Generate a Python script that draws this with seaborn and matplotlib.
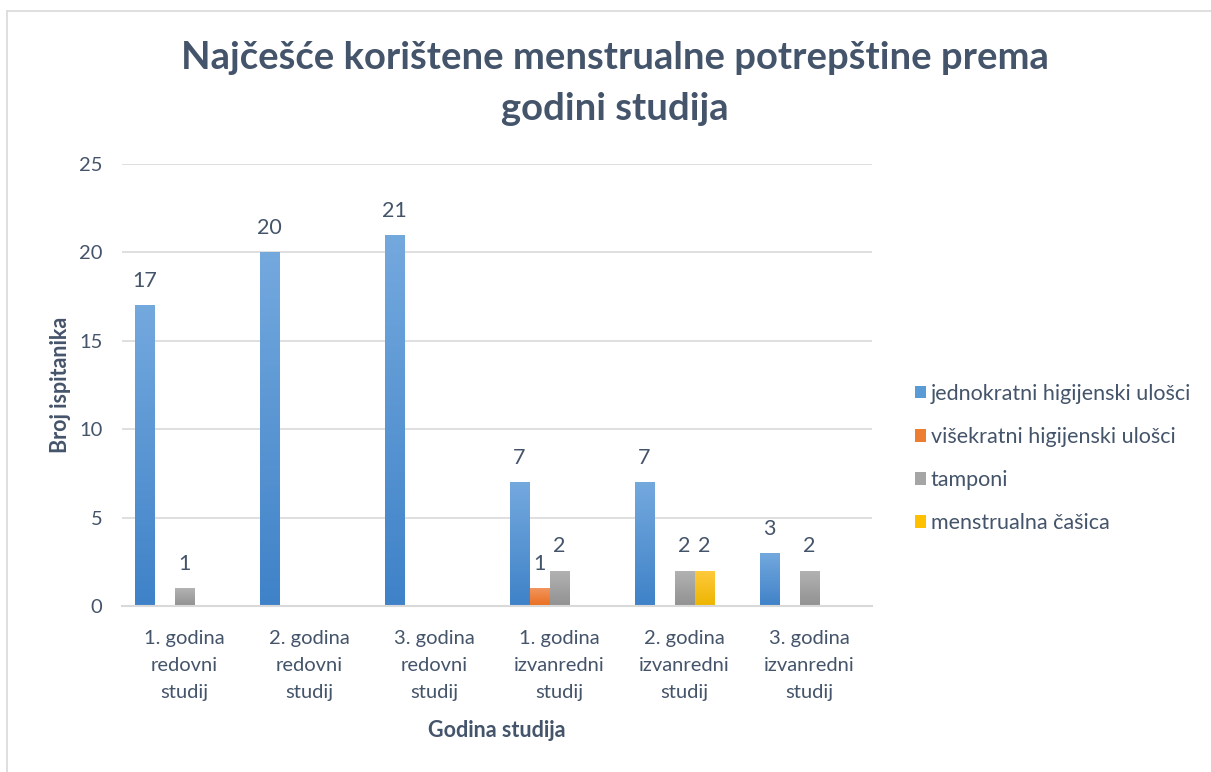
import numpy as np
import pandas as pd
import matplotlib
matplotlib.use("Agg")
import matplotlib.pyplot as plt
import matplotlib.colors as mcolors
import seaborn as sns

categories = ["1. godina\nredovni\nstudij", "2. godina\nredovni\nstudij", "3. godina\nredovni\nstudij",
              "1. godina\nizvanredni\nstudij", "2. godina\nizvanredni\nstudij", "3. godina\nizvanredni\nstudij"]
series_names = ["jednokratni higijenski ulošci", "višekratni higijenski ulošci", "tamponi", "menstrualna čašica"]
jednokratni = [17, 20, 21, 7, 7, 3]
visekratni = [0, 0, 0, 1, 0, 0]
tamponi = [1, 0, 0, 2, 2, 2]
casica = [0, 0, 0, 0, 2, 0]
prazno = [0, 0, 0, 0, 0, 0]  # empty fifth series slot (as in the original chart)

series_values = [jednokratni, visekratni, tamponi, casica, prazno]
hue_levels = series_names + ["_empty"]

rows = []
for name, vals in zip(hue_levels, series_values):
    for c, v in zip(categories, vals):
        rows.append({"cat": c, "series": name, "value": v})
df = pd.DataFrame(rows)

top_cols = ["#74a9de", "#f2955e", "#b3b3b3", "#ffca3e", "#ffffff"]
bot_cols = ["#3f82c8", "#ea6e1e", "#919191", "#edb500", "#ffffff"]
solid = ["#5b9bd5", "#ed7d31", "#a5a5a5", "#ffc000", "#ffffff"]

text_col = "#44546a"
sns.set_theme(style="white")
plt.rcParams["font.family"] = ["Lato", "DejaVu Sans"]

fig = plt.figure(figsize=(12.11, 7.72), dpi=100)
ax = fig.add_axes([122/1211, 1-606/772, 750/1211, 442/772])

sns.barplot(data=df, x="cat", y="value", hue="series", hue_order=hue_levels,
            order=categories, palette=solid, width=0.8, gap=0, ax=ax,
            legend=False, saturation=1, errorbar=None)

ax.set_ylim(0, 25)
ax.set_xlim(-0.5, 5.5)
ax.set_yticks([0, 5, 10, 15, 20, 25])
ax.yaxis.grid(True, color="#d9d9d9", linewidth=1.2)
ax.set_axisbelow(True)
for s in ["top", "right", "left"]:
    ax.spines[s].set_visible(False)
ax.spines["bottom"].set_color("#d9d9d9")
ax.spines["bottom"].set_linewidth(1.5)
ax.tick_params(axis="both", length=0, colors=text_col)
ax.tick_params(axis="y", pad=14, labelsize=14.5)
ax.tick_params(axis="x", pad=17, labelsize=14.5)
for lab in ax.get_xticklabels():
    lab.set_linespacing(1.72)

# gradient fills + labels
grad = np.linspace(0, 1, 256).reshape(-1, 1)
for i, cont in enumerate(ax.containers):
    cmap = mcolors.LinearSegmentedColormap.from_list("g", [bot_cols[i], top_cols[i]])
    vals = series_values[i]
    for j, patch in enumerate(cont.patches):
        h = patch.get_height()
        if h <= 0 or i == 4:
            patch.set_visible(False)
            continue
        x0 = patch.get_x(); w = patch.get_width()
        patch.set_edgecolor("none")
        im = ax.imshow(grad, extent=[x0, x0 + w, 0, h], origin="lower", cmap=cmap,
                       aspect="auto", zorder=patch.get_zorder() + 0.1)
        im.set_clip_path(patch)
        ax.text(x0 + w / 2, h + 0.8, f"{vals[j]}", ha="center", va="bottom",
                fontsize=15.5, color=text_col)
ax.set_xlim(-0.5, 5.5)
ax.set_ylim(0, 25)

ax.set_xlabel("Godina studija", fontsize=15.5, fontweight="bold", color=text_col, labelpad=14)
ax.set_ylabel("Broj ispitanika", fontsize=15.5, fontweight="bold", color=text_col, labelpad=6)

# legend
from matplotlib.patches import Patch
handles = [Patch(facecolor=solid[k], edgecolor="none") for k in range(4)]
fig.legend(handles, series_names, loc="upper left", bbox_to_anchor=(906/1211, 1-375/772),
           frameon=False, fontsize=15.5, labelcolor=text_col, handlelength=0.55,
           handleheight=0.55, handletextpad=0.2, labelspacing=1.08, borderaxespad=0)

fig.text(615/1211, 1-58/772, "Najčešće korištene menstrualne potrepštine prema",
         ha="center", va="center", fontsize=27.5, fontweight="bold", color=text_col)
fig.text(615/1211, 1-109/772, "godini studija",
         ha="center", va="center", fontsize=27.5, fontweight="bold", color=text_col)

# chart border (top and left visible)
fig.add_artist(plt.Line2D([7/1211, 1], [1-11/772, 1-11/772], color="#d9d9d9", lw=1.2))
fig.add_artist(plt.Line2D([7/1211, 7/1211], [0, 1-11/772], color="#d9d9d9", lw=1.2))

fig.savefig("out.png", dpi=100)
